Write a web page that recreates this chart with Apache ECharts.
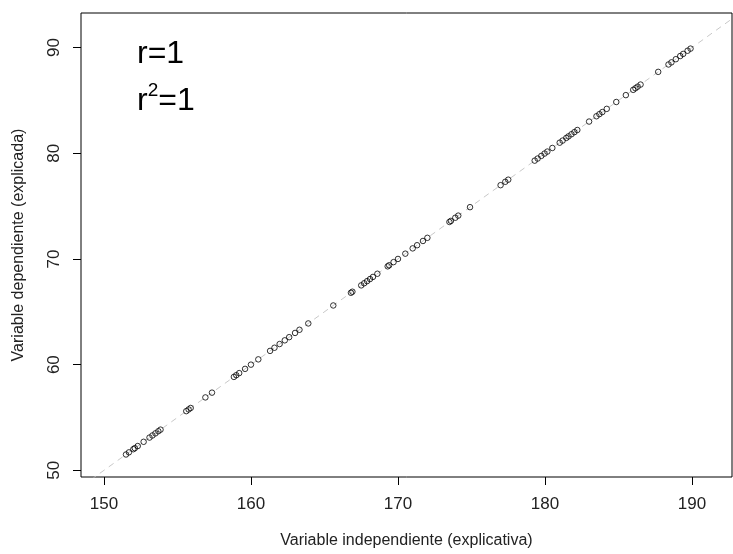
<!DOCTYPE html>
<html>
<head>
<meta charset="utf-8">
<script src="https://cdn.jsdelivr.net/npm/echarts@6/dist/echarts.min.js"></script>
<style>
html,body{margin:0;padding:0;background:#fff;}
#chart{width:733px;height:554px;}
</style>
</head>
<body>
<div id="chart"></div>
<script>
// Independent variable (x) values
var xValues = [151.5, 151.7, 152.0, 152.1, 152.3, 152.7, 153.1, 153.3, 153.5, 153.7, 153.85, 155.6, 155.76, 155.9, 156.9, 157.35,
  158.84, 159.0, 159.2, 159.6, 160.0, 160.5, 161.3, 161.6, 161.95, 162.3, 162.6, 163.0, 163.3, 163.9,
  165.6, 166.8, 166.9, 167.5, 167.7, 167.9, 168.1, 168.3, 168.6, 169.3, 169.4, 169.7, 170.0, 170.5, 171.0, 171.3,
  171.7, 172.0, 173.5, 173.6, 173.9, 174.1, 174.9, 176.98, 177.3, 177.5,
  179.3, 179.5, 179.75, 179.97, 180.16, 180.5, 181.0, 181.2, 181.45, 181.6, 181.8, 182.0, 182.2, 183.0, 183.5, 183.7, 183.9, 184.2, 184.85,
  185.5, 186.0, 186.15, 186.3, 186.5, 187.7, 188.4, 188.6, 188.9, 189.2, 189.4, 189.7, 189.9];
// Dependent variable (y) values
var yValues = [51.5, 51.7, 52.0, 52.1, 52.3, 52.7, 53.1, 53.3, 53.5, 53.7, 53.85, 55.6, 55.76, 55.9, 56.9, 57.35,
  58.84, 59.0, 59.2, 59.6, 60.0, 60.5, 61.3, 61.6, 61.95, 62.3, 62.6, 63.0, 63.3, 63.9,
  65.6, 66.8, 66.9, 67.5, 67.7, 67.9, 68.1, 68.3, 68.6, 69.3, 69.4, 69.7, 70.0, 70.5, 71.0, 71.3,
  71.7, 72.0, 73.5, 73.6, 73.9, 74.1, 74.9, 76.98, 77.3, 77.5,
  79.3, 79.5, 79.75, 79.97, 80.16, 80.5, 81.0, 81.2, 81.45, 81.6, 81.8, 82.0, 82.2, 83.0, 83.5, 83.7, 83.9, 84.2, 84.85,
  85.5, 86.0, 86.15, 86.3, 86.5, 87.7, 88.4, 88.6, 88.9, 89.2, 89.4, 89.7, 89.9];
// Reference line y = x - 100 (end points)
var refLineX = [140, 200];
var refLineY = [40, 100];
// Tick labels
var xTicks = [150, 160, 170, 180, 190];
var yTicks = [50, 60, 70, 80, 90];
var xRange = [148.44, 192.72];
var yRange = [49.37, 93.27];

var FONT = 'Liberation Sans, Arial, sans-serif';
var points = xValues.map(function (x, i) { return [x, yValues[i]]; });
var refLine = refLineX.map(function (x, i) { return [x, refLineY[i]]; });

var chart = echarts.init(document.getElementById('chart'), null, {renderer: 'canvas'});
chart.setOption({
  animation: false,
  backgroundColor: '#fff',
  grid: {left: 81, top: 13, right: 1, bottom: 75, show: true, borderColor: '#000', borderWidth: 1, containLabel: false},
  xAxis: {
    type: 'value', min: xRange[0], max: xRange[1],
    splitLine: {show: false},
    axisLine: {show: false},
    axisTick: {show: true, inside: false, length: 8, customValues: xTicks, lineStyle: {color: '#000'}},
    axisLabel: {customValues: xTicks, margin: 19, fontSize: 17, fontFamily: FONT, color: '#222'},
    name: 'Variable independiente (explicativa)',
    nameLocation: 'middle', nameGap: 56,
    nameTextStyle: {fontSize: 16, fontFamily: FONT, color: '#222'}
  },
  yAxis: {
    type: 'value', min: yRange[0], max: yRange[1],
    splitLine: {show: false},
    axisLine: {show: false},
    axisTick: {show: true, inside: false, length: 8, customValues: yTicks, lineStyle: {color: '#000'}},
    axisLabel: {customValues: yTicks, rotate: 90, margin: 18, fontSize: 17, fontFamily: FONT, color: '#222'},
    name: 'Variable dependiente (explicada)',
    nameLocation: 'middle', nameGap: 54,
    nameTextStyle: {fontSize: 16, fontFamily: FONT, color: '#222'}
  },
  graphic: [
    {type: 'text', left: 137, top: 38, style: {text: 'r=1', font: '32px ' + FONT, fill: '#000'}},
    {type: 'text', left: 137, top: 81, style: {
      text: '{n|r}{s|2}{n|=1}', fill: '#000',
      rich: {
        n: {fontSize: 32, fontFamily: FONT, color: '#000', lineHeight: 36, verticalAlign: 'bottom'},
        s: {fontSize: 19, fontFamily: FONT, color: '#000', lineHeight: 20, verticalAlign: 'top'}
      }
    }}
  ],
  series: [
    {
      type: 'line', data: refLine, symbol: 'none', silent: true, z: 1,
      lineStyle: {color: '#c8c8c8', width: 1, type: [6, 5]}
    },
    {
      type: 'scatter', data: points, symbol: 'circle', symbolSize: 5.5, z: 2,
      itemStyle: {color: 'rgba(0,0,0,0)', borderColor: '#000', borderWidth: 1}
    }
  ]
});
</script>
</body>
</html>
